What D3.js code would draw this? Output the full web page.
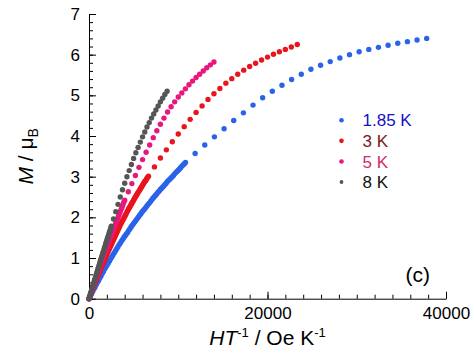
<!DOCTYPE html>
<html>
<head>
<meta charset="utf-8">
<script src="https://cdn.jsdelivr.net/npm/d3@7"></script>
<style>
  html, body { margin: 0; padding: 0; background: #fff; }
  svg { display: block; font-family: "Liberation Sans", Arial, Helvetica, sans-serif; }
</style>
</head>
<body>
<svg id="chart" width="474" height="357"></svg>
<script>
// Applied field (tesla) of the measured points
const fieldFine = [
  0, 0.025, 0.05, 0.075, 0.10, 0.125, 0.15, 0.175, 0.20, 0.225, 0.25, 0.275, 0.30, 0.325, 0.35, 0.375, 0.40, 0.425, 0.45, 0.475,
  0.50, 0.525, 0.55, 0.575, 0.60, 0.625, 0.65, 0.675, 0.70, 0.725, 0.75, 0.775, 0.80, 0.825, 0.85, 0.875, 0.90, 0.925, 0.95, 0.975,
  1.00, 1.025, 1.05, 1.075, 1.10, 1.125, 1.15, 1.175, 1.20, 1.225, 1.25, 1.275, 1.30, 1.325, 1.35, 1.375, 1.40, 1.425, 1.45, 1.475,
  1.50, 1.525, 1.55, 1.575, 1.60, 1.625, 1.65, 1.675, 1.70, 1.725, 1.75, 1.775, 1.80, 1.825, 1.85, 1.875, 1.90, 1.925, 1.95, 1.975, 2.00
];
const fieldCoarse = [
  0, 0.05, 0.10, 0.15, 0.20, 0.25, 0.30, 0.35, 0.40, 0.45, 0.50, 0.55, 0.60, 0.65, 0.70, 0.75, 0.80, 0.85, 0.90, 0.95,
  1.00, 1.05, 1.10, 1.15, 1.20, 1.25, 1.30, 1.35, 1.40, 1.45, 1.50, 1.55, 1.60, 1.65, 1.70, 1.75, 1.80, 1.85, 1.90, 1.95, 2.00
];
const fieldHigh = [2.2, 2.4, 2.6, 2.8, 3.0, 3.2, 3.4, 3.6, 3.8, 4.0, 4.2, 4.4, 4.6, 4.8, 5.0, 5.2, 5.4, 5.6, 5.8, 6.0, 6.2, 6.4, 6.6, 6.8, 7.0];

const temperatures = [1.85, 3, 5, 8];
const seriesLabels = ["1.85 K", "3 K", "5 K", "8 K"];

// M (µB): low-field part, then high-field part
const m185KLow = [
  0, 0.06, 0.11, 0.17, 0.23, 0.28, 0.34, 0.40, 0.45, 0.51, 0.56, 0.62, 0.67, 0.73, 0.78, 0.83, 0.88, 0.93, 0.98, 1.03,
  1.08, 1.13, 1.18, 1.23, 1.28, 1.33, 1.37, 1.42, 1.46, 1.51, 1.55, 1.59, 1.63, 1.68, 1.72, 1.77, 1.81, 1.85, 1.89, 1.93,
  1.97, 2.01, 2.05, 2.09, 2.13, 2.17, 2.20, 2.24, 2.28, 2.32, 2.35, 2.39, 2.43, 2.47, 2.50, 2.54, 2.57, 2.61, 2.64, 2.68,
  2.71, 2.74, 2.77, 2.81, 2.84, 2.88, 2.91, 2.94, 2.97, 3.00, 3.03, 3.07, 3.10, 3.13, 3.16, 3.19, 3.22, 3.26, 3.29, 3.32, 3.35
];
const m185KHigh = [3.57, 3.78, 3.98, 4.18, 4.38, 4.57, 4.76, 4.94, 5.10, 5.25, 5.39, 5.52, 5.64, 5.74, 5.83, 5.92, 6.00, 6.07, 6.13, 6.18, 6.23, 6.28, 6.32, 6.36, 6.40];

const m3KLow = [
  0, 0.05, 0.10, 0.15, 0.19, 0.24, 0.29, 0.34, 0.38, 0.43, 0.47, 0.52, 0.56, 0.61, 0.65, 0.70, 0.74, 0.79, 0.83, 0.87,
  0.91, 0.96, 1.00, 1.04, 1.08, 1.13, 1.17, 1.21, 1.25, 1.29, 1.33, 1.37, 1.41, 1.45, 1.49, 1.53, 1.57, 1.61, 1.65, 1.69,
  1.73, 1.77, 1.81, 1.85, 1.88, 1.92, 1.95, 1.99, 2.02, 2.06, 2.09, 2.13, 2.16, 2.20, 2.23, 2.26, 2.29, 2.33, 2.36, 2.39,
  2.42, 2.46, 2.49, 2.52, 2.55, 2.58, 2.61, 2.64, 2.67, 2.70, 2.73, 2.76, 2.79, 2.82, 2.85, 2.88, 2.90, 2.93, 2.96, 2.99, 3.01
];
const m3KHigh = [3.24, 3.46, 3.66, 3.86, 4.05, 4.23, 4.41, 4.58, 4.74, 4.90, 5.04, 5.17, 5.30, 5.41, 5.52, 5.62, 5.71, 5.79, 5.87, 5.94, 6.01, 6.07, 6.13, 6.19, 6.25];

const m5KLow = [
  0, 0.07, 0.13, 0.20, 0.26, 0.33, 0.39, 0.46, 0.52, 0.58, 0.65, 0.71, 0.77, 0.84, 0.90, 0.96, 1.02, 1.08, 1.14, 1.20,
  1.27, 1.33, 1.39, 1.45, 1.51, 1.56, 1.62, 1.68, 1.74, 1.80, 1.86, 1.91, 1.97, 2.03, 2.09, 2.14, 2.20, 2.25, 2.31, 2.37, 2.42
];
const m5KHigh = [2.63, 2.83, 3.03, 3.23, 3.42, 3.60, 3.78, 3.96, 4.13, 4.29, 4.44, 4.59, 4.72, 4.84, 4.96, 5.06, 5.16, 5.26, 5.35, 5.44, 5.52, 5.60, 5.68, 5.75, 5.82];

const m8KLow = [
  0, 0.05, 0.09, 0.14, 0.18, 0.23, 0.28, 0.32, 0.37, 0.41, 0.46, 0.50, 0.55, 0.59, 0.64, 0.68, 0.73, 0.77, 0.82, 0.86,
  0.91, 0.95, 0.99, 1.04, 1.08, 1.13, 1.17, 1.22, 1.26, 1.30, 1.35, 1.39, 1.43, 1.48, 1.52, 1.56, 1.61, 1.65, 1.69, 1.74, 1.78
];
const m8KHigh = [1.96, 2.14, 2.32, 2.50, 2.68, 2.84, 3.00, 3.15, 3.30, 3.45, 3.59, 3.72, 3.85, 3.98, 4.10, 4.22, 4.33, 4.44, 4.54, 4.64, 4.74, 4.84, 4.93, 5.02, 5.10];

const xTicksMajor = [0, 20000, 40000];
const yTicksMajor = [0, 1, 2, 3, 4, 5, 6, 7];

const dotColors = ["#2a63ea", "#e8141e", "#e8177e", "#555555"];
const textColors = ["#1212c4", "#761a22", "#d22a6a", "#111111"];

const seriesData = [
  { low: fieldFine, mLow: m185KLow, mHigh: m185KHigh },
  { low: fieldFine, mLow: m3KLow, mHigh: m3KHigh },
  { low: fieldCoarse, mLow: m5KLow, mHigh: m5KHigh },
  { low: fieldCoarse, mLow: m8KLow, mHigh: m8KHigh }
];

const svg = d3.select("#chart");
const mLeft = 89, mRight = 446, mTop = 14, mBottom = 298.7;

const x = d3.scaleLinear().domain([0, 40000]).range([mLeft, mRight]);
const y = d3.scaleLinear().domain([0, 7]).range([mBottom, mTop]);

// minor ticks
const xMinor = d3.range(0, 40001, 2000);
const yMinor = d3.range(0, 36).map(i => i * 0.2);

svg.append("g").attr("transform", `translate(0,${mBottom})`)
  .call(d3.axisBottom(x).tickValues(xMinor).tickSize(-4).tickFormat(""))
  .call(g => g.select(".domain").remove())
  .selectAll("line").attr("stroke", "#000");
svg.append("g").attr("transform", `translate(${mLeft},0)`)
  .call(d3.axisLeft(y).tickValues(yMinor).tickSize(-4).tickFormat(""))
  .call(g => g.select(".domain").remove())
  .selectAll("line").attr("stroke", "#000");

const xAxis = svg.append("g").attr("transform", `translate(0,${mBottom})`)
  .call(d3.axisBottom(x).tickValues(xTicksMajor).tickSize(-7).tickSizeOuter(0).tickPadding(8).tickFormat(d3.format("d")));
xAxis.selectAll("text").attr("font-size", 17).attr("fill", "#000")
  .attr("font-family", "'Liberation Sans', Arial, sans-serif");

const yAxis = svg.append("g").attr("transform", `translate(${mLeft},0)`)
  .call(d3.axisLeft(y).tickValues(yTicksMajor).tickSize(-7).tickSizeOuter(0).tickPadding(9).tickFormat(d3.format("d")));
yAxis.selectAll("text").attr("font-size", 17).attr("fill", "#000")
  .attr("font-family", "'Liberation Sans', Arial, sans-serif");

svg.selectAll(".domain").attr("stroke", "#000").attr("stroke-width", 1);

// data points
temperatures.forEach((T, i) => {
  const s = seriesData[i];
  const pts = s.low.map((h, j) => ({ hx: h * 10000 / T, m: s.mLow[j] }))
    .concat(fieldHigh.map((h, j) => ({ hx: h * 10000 / T, m: s.mHigh[j] })));
  svg.append("g").selectAll("circle").data(pts).join("circle")
    .attr("cx", d => x(d.hx))
    .attr("cy", d => y(d.m))
    .attr("r", 2.7)
    .attr("fill", dotColors[i]);
});

// legend
const legendY = d3.scalePoint().domain(seriesLabels).range([120.3, 182]);
const lg = svg.append("g");
seriesLabels.forEach((lab, i) => {
  lg.append("circle").attr("cx", 341.5).attr("cy", legendY(lab))
    .attr("r", i === 3 ? 1.9 : 2.3).attr("fill", dotColors[i]);
  lg.append("text").attr("x", 362.5).attr("y", legendY(lab)).attr("dy", "0.36em")
    .attr("font-size", 17).attr("fill", textColors[i]).text(lab);
});

// axis titles
const xt = svg.append("text").attr("x", (mLeft + mRight) / 2).attr("y", 345)
  .attr("text-anchor", "middle").attr("font-size", 21).attr("fill", "#000");
xt.append("tspan").attr("font-style", "italic").text("HT");
xt.append("tspan").attr("font-size", 13).attr("dy", -8).text("-1");
xt.append("tspan").attr("dy", 8).text(" / Oe K");
xt.append("tspan").attr("font-size", 13).attr("dy", -8).text("-1");

const yt = svg.append("text")
  .attr("transform", `translate(33,${(mTop + mBottom) / 2}) rotate(-90)`)
  .attr("text-anchor", "middle").attr("font-size", 21).attr("fill", "#000");
yt.append("tspan").attr("font-style", "italic").text("M");
yt.append("tspan").text(" / μ");
yt.append("tspan").attr("font-size", 14).attr("dy", 5).text("B");

svg.append("text").attr("x", 430).attr("y", 282).attr("text-anchor", "end")
  .attr("font-size", 21).attr("fill", "#000").text("(c)");
</script>
</body>
</html>
